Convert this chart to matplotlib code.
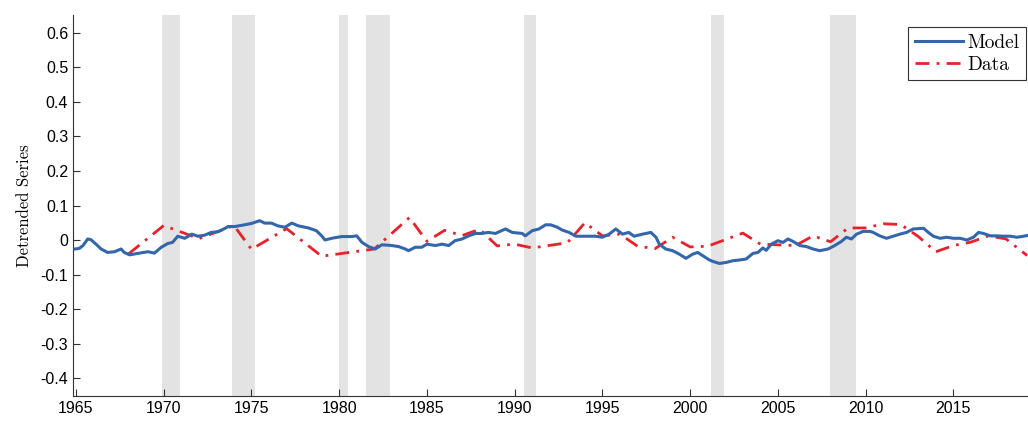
import matplotlib
matplotlib.use("Agg")
import matplotlib.pyplot as plt
import numpy as np

# recession bands (start, end)
recessions = [(1969.9, 1970.9), (1973.9, 1975.2), (1980.0, 1980.5),
              (1981.5, 1982.9), (1990.55, 1991.2), (2001.2, 2001.9),
              (2007.95, 2009.45)]

# model series
model_t = [1964.95, 1965.2, 1965.4, 1965.67, 1965.85, 1966.14, 1966.43, 1966.8,
           1967.2, 1967.57, 1967.75, 1968.05, 1968.5, 1969.1, 1969.47, 1969.86,
           1970.24, 1970.5, 1970.8, 1971.2, 1971.6, 1971.95, 1972.33, 1972.7,
           1973.1, 1973.5, 1973.67, 1974.05, 1974.6, 1975.0, 1975.47, 1975.75,
           1976.14, 1976.5, 1976.9, 1977.3, 1977.67, 1978.24, 1978.7, 1979.0,
           1979.19, 1979.57, 1980.14, 1980.7, 1981.0, 1981.3, 1981.67, 1982.05,
           1982.43, 1982.8, 1983.0, 1983.38, 1983.76, 1983.95, 1984.33, 1984.7,
           1985.0, 1985.48, 1985.86, 1986.24, 1986.6, 1987.0, 1987.38, 1987.76,
           1988.14, 1988.5, 1988.9, 1989.47, 1989.86, 1990.43, 1990.6, 1991.0,
           1991.38, 1991.76, 1992.05, 1992.43, 1992.7, 1993.1, 1993.48, 1994.05,
           1994.6, 1995.0, 1995.38, 1995.76, 1996.14, 1996.5, 1996.8, 1997.29,
           1997.76, 1998.05, 1998.24, 1998.6, 1999.0, 1999.38, 1999.76, 2000.14,
           2000.43, 2000.7, 2001.1, 2001.29, 2001.67, 2002.05, 2002.43, 2002.8,
           2003.19, 2003.57, 2003.86, 2004.14, 2004.33, 2004.62, 2005.0, 2005.29,
           2005.57, 2005.86, 2006.24, 2006.62, 2007.0, 2007.38, 2007.86, 2008.24,
           2008.62, 2008.9, 2009.19, 2009.48, 2009.86, 2010.24, 2010.43, 2010.8,
           2011.19, 2011.5, 2011.95, 2012.33, 2012.71, 2013.3, 2013.57, 2013.86,
           2014.24, 2014.62, 2015.0, 2015.38, 2015.76, 2016.14, 2016.43, 2016.71,
           2017.1, 2017.48, 2017.86, 2018.24, 2018.62, 2019.0, 2019.29]
model_v = [-0.026, -0.024, -0.016, 0.003, 0.001, -0.012, -0.026, -0.036,
           -0.034, -0.026, -0.036, -0.043, -0.039, -0.034, -0.038, -0.021,
           -0.010, -0.007, 0.011, 0.005, 0.017, 0.011, 0.014, 0.022,
           0.024, 0.034, 0.039, 0.039, 0.044, 0.048, 0.056, 0.049,
           0.049, 0.041, 0.037, 0.049, 0.041, 0.035, 0.027, 0.012,
           0.000, 0.005, 0.010, 0.010, 0.012, -0.007, -0.019, -0.026,
           -0.014, -0.015, -0.016, -0.019, -0.026, -0.031, -0.021, -0.021,
           -0.012, -0.016, -0.012, -0.016, -0.002, 0.003, 0.012, 0.019,
           0.019, 0.022, 0.019, 0.032, 0.022, 0.019, 0.012, 0.027,
           0.032, 0.044, 0.044, 0.037, 0.029, 0.022, 0.011, 0.011,
           0.011, 0.008, 0.017, 0.032, 0.017, 0.022, 0.011, 0.017,
           0.022, 0.008, -0.012, -0.026, -0.031, -0.041, -0.053, -0.041,
           -0.036, -0.045, -0.058, -0.062, -0.068, -0.065, -0.060, -0.058,
           -0.055, -0.039, -0.036, -0.023, -0.030, -0.012, -0.002, -0.007,
           0.003, -0.004, -0.016, -0.019, -0.026, -0.031, -0.026, -0.016,
           -0.004, 0.008, 0.003, 0.017, 0.025, 0.025, 0.022, 0.012,
           0.005, 0.010, 0.017, 0.022, 0.032, 0.034, 0.022, 0.011,
           0.005, 0.008, 0.005, 0.005, 0.000, 0.008, 0.022, 0.019,
           0.012, 0.012, 0.011, 0.011, 0.008, 0.011, 0.014]

# data series
data_t = [1968, 1970, 1972, 1974, 1975, 1977, 1979, 1981, 1982, 1984, 1985,
          1986, 1987, 1988, 1989, 1990, 1991, 1993, 1994, 1995, 1996, 1997,
          1998, 1999, 2000, 2001, 2003, 2004, 2006, 2007, 2008, 2009, 2010,
          2011, 2012, 2013, 2014, 2015, 2016, 2017, 2018, 2019.2]
data_v = [-0.040, 0.042, 0.004, 0.042, -0.027, 0.033, -0.047, -0.033, -0.026,
          0.065, -0.004, 0.028, 0.013, 0.031, -0.017, -0.012, -0.023, -0.008,
          0.050, 0.012, 0.017, -0.018, -0.025, 0.008, -0.020, -0.018, 0.020,
          -0.012, -0.016, 0.012, -0.005, 0.035, 0.035, 0.047, 0.045, 0.010,
          -0.034, -0.016, -0.006, 0.012, 0.003, -0.045]

yticks = [-0.4, -0.3, -0.2, -0.1, 0, 0.1, 0.2, 0.3, 0.4, 0.5, 0.6]
ylabels = ['-0.4', '-0.3', '-0.2', '-0.1', '0', '0.1', '0.2', '0.3', '0.4', '0.5', '0.6']
xticks = [1965, 1970, 1975, 1980, 1985, 1990, 1995, 2000, 2005, 2010, 2015]

fig = plt.figure(figsize=(10.28, 4.24), dpi=100)
ax = fig.add_axes([73/1028, 28/424, 955/1028, 381/424])

for a, b in recessions:
    ax.axvspan(a, b, color='#e3e3e3', lw=0, zorder=0)

ax.plot(model_t, model_v, color='#3366aa', lw=2.2, label='Model', zorder=3)
ax.plot(data_t, data_v, color='#e8212b', lw=2.0, ls=(0, (5, 2.6, 1, 2.6)),
        label='Data', zorder=2)

ax.set_xlim(1964.83, 2019.25)
ax.set_ylim(-0.452, 0.652)
ax.set_yticks(yticks)
ax.set_yticklabels(ylabels)
ax.set_xticks(xticks)
ax.tick_params(direction='in', length=5, width=0.8, labelsize=11.5, color='#333333')
for lab in ax.get_xticklabels() + ax.get_yticklabels():
    lab.set_family('Liberation Sans')
ax.spines['top'].set_visible(False)
ax.spines['right'].set_visible(False)
for s in ['left', 'bottom']:
    ax.spines[s].set_color('#333333')
    ax.spines[s].set_linewidth(0.8)

ax.set_ylabel('Detrended Series', family='cmr10', fontsize=12, labelpad=6)

leg = ax.legend(loc='upper right', bbox_to_anchor=(0.998, 1 - 12/381),
                prop={'family': 'cmr10', 'size': 14},
                fancybox=False, edgecolor='#333333', framealpha=1,
                handlelength=2.5, borderaxespad=0.0, borderpad=0.35,
                labelspacing=0.2, handletextpad=0.2)
leg.get_frame().set_linewidth(0.8)

fig.savefig('out.png', dpi=100)
